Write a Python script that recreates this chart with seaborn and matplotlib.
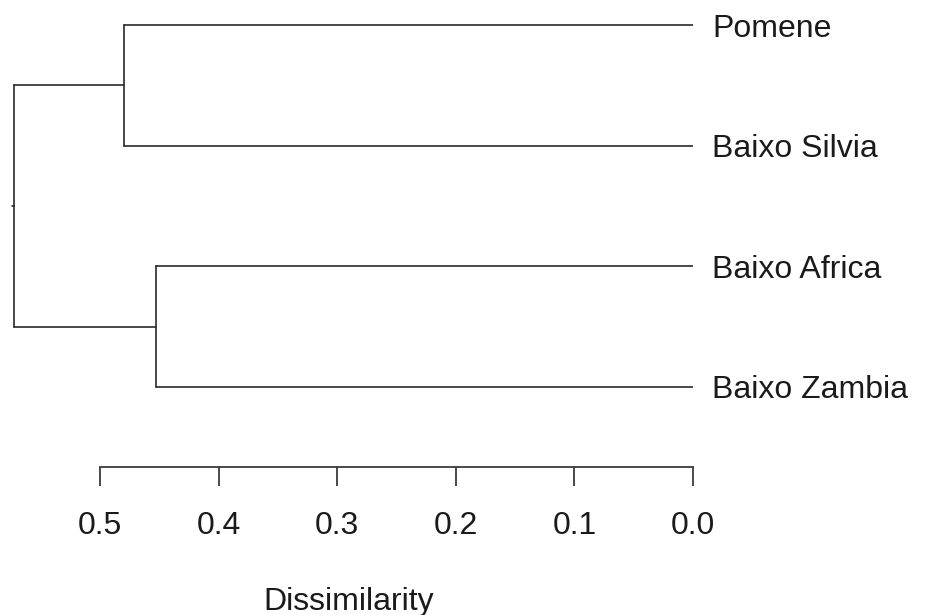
import pandas as pd
import matplotlib
matplotlib.use("Agg")
import matplotlib.pyplot as plt
import seaborn as sns

# Leaves (top to bottom) and merge heights
leaves = ["Pomene", "Baixo Silvia", "Baixo Africa", "Baixo Zambia"]
h_pomene_silvia = 0.48
h_africa_zambia = 0.453
h_root = 0.572
ticks = [0.5, 0.4, 0.3, 0.2, 0.1, 0.0]

# Build the dendrogram segments from the merge heights
pos = list(range(len(leaves)))
mid_a = (pos[0] + pos[1]) / 2
mid_b = (pos[2] + pos[3]) / 2
segs = [
    ([0, h_pomene_silvia], [pos[0], pos[0]]),
    ([0, h_pomene_silvia], [pos[1], pos[1]]),
    ([h_pomene_silvia, h_pomene_silvia], [pos[0], pos[1]]),
    ([0, h_africa_zambia], [pos[2], pos[2]]),
    ([0, h_africa_zambia], [pos[3], pos[3]]),
    ([h_africa_zambia, h_africa_zambia], [pos[2], pos[3]]),
    ([h_pomene_silvia, h_root], [mid_a, mid_a]),
    ([h_africa_zambia, h_root], [mid_b, mid_b]),
    ([h_root, h_root], [mid_a, mid_b]),
    ([h_root, h_root + 0.002], [(mid_a + mid_b) / 2] * 2),
]
rows = []
for i, (xs, ys) in enumerate(segs):
    for x, y in zip(xs, ys):
        rows.append({"seg": i, "x": x, "y": y})
df = pd.DataFrame(rows)

sns.set_theme(style="white")
plt.rcParams["font.family"] = ["Liberation Sans", "DejaVu Sans"]

fig = plt.figure(figsize=(9.35, 6.15), dpi=100)
ax = fig.add_axes([5 / 935, 1 - 411 / 615, 688 / 935, 410 / 615])

sns.lineplot(data=df, x="x", y="y", units="seg", estimator=None, sort=False,
             color="#2a2a2a", linewidth=1.2, ax=ax, legend=False)

ax.set_xlim(0.58, 0.0)
ax.set_ylim(3.2, -0.2)

for s in ["top", "left", "right"]:
    ax.spines[s].set_visible(False)
ax.spines["bottom"].set_position(("outward", 40))
ax.spines["bottom"].set_bounds(0.0, 0.5)
ax.spines["bottom"].set_color("#3a3a3a")
ax.spines["bottom"].set_linewidth(1.3)

ax.set_xticks(ticks)
ax.set_xticklabels([f"{t:.1f}" for t in ticks])
ax.tick_params(axis="x", direction="out", length=14, width=1.3, color="#3a3a3a",
               pad=18, labelsize=23, labelcolor="#1a1a1a", bottom=True)
ax.set_xlabel("Dissimilarity", fontsize=23, color="#1a1a1a", labelpad=33)

ax.yaxis.tick_right()
ax.set_yticks(pos)
ax.set_yticklabels(leaves)
ax.tick_params(axis="y", length=0, pad=14, labelsize=23, labelcolor="#1a1a1a")
ax.set_ylabel("")

fig.savefig("out.png", dpi=100)
